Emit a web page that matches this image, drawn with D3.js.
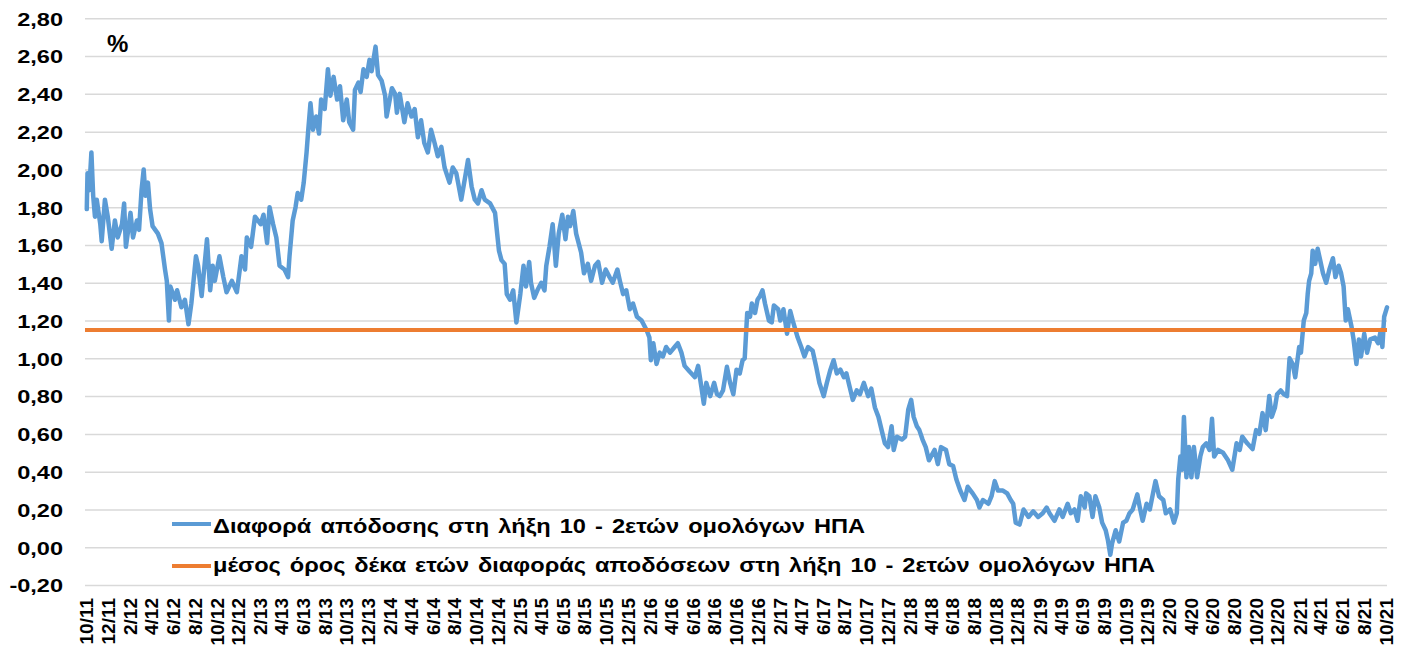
<!DOCTYPE html>
<html>
<head>
<meta charset="utf-8">
<script src="https://cdn.jsdelivr.net/npm/d3@7"></script>
<style>
  body { margin: 0; background: #fff; }
  svg { display: block; font-family: "Liberation Sans", Arial, sans-serif; font-weight: bold; }
</style>
</head>
<body>
<script>
// 10y - 2y US Treasury spread
var spreadDates = [
  "2011-10-03","2011-10-05","2011-10-10","2011-10-16","2011-10-21","2011-10-26","2011-10-31","2011-11-10","2011-11-14","2011-11-23",
  "2011-12-01","2011-12-12","2011-12-21","2011-12-29","2012-01-10","2012-01-16","2012-01-21","2012-02-03","2012-02-10","2012-02-21",
  "2012-02-27","2012-03-05","2012-03-11","2012-03-16","2012-03-23","2012-03-29","2012-04-05","2012-04-20","2012-04-30","2012-05-10",
  "2012-05-15","2012-05-21","2012-05-25","2012-06-07","2012-06-13","2012-06-25","2012-07-05","2012-07-15","2012-07-23","2012-08-05",
  "2012-08-11","2012-08-21","2012-09-05","2012-09-14","2012-09-21","2012-09-27","2012-10-10","2012-10-21","2012-10-30","2012-11-14",
  "2012-11-28","2012-12-11","2012-12-21","2012-12-26","2013-01-07","2013-01-18","2013-02-03","2013-02-11","2013-02-21","2013-02-28",
  "2013-03-10","2013-03-19","2013-03-28","2013-04-11","2013-04-21","2013-04-25","2013-05-04","2013-05-12","2013-05-18","2013-05-28",
  "2013-06-04","2013-06-12","2013-06-16","2013-06-23","2013-06-30","2013-07-09","2013-07-17","2013-07-23","2013-08-02","2013-08-11",
  "2013-08-18","2013-08-27","2013-09-06","2013-09-14","2013-09-23","2013-10-03","2013-10-10","2013-10-21","2013-10-26","2013-11-05",
  "2013-11-11","2013-11-19","2013-11-28","2013-12-06","2013-12-12","2013-12-23","2013-12-30","2014-01-09","2014-01-19","2014-01-23",
  "2014-02-07","2014-02-16","2014-02-21","2014-03-01","2014-03-14","2014-03-23","2014-04-03","2014-04-12","2014-04-21","2014-04-30",
  "2014-05-09","2014-05-19","2014-05-28","2014-06-07","2014-06-16","2014-06-26","2014-07-05","2014-07-19","2014-07-28","2014-08-07",
  "2014-08-21","2014-09-01","2014-09-09","2014-09-19","2014-09-28","2014-10-07","2014-10-17","2014-10-26","2014-11-10","2014-11-24",
  "2014-11-30","2014-12-05","2014-12-12","2014-12-21","2014-12-27","2015-01-05","2015-01-14","2015-01-23","2015-02-03","2015-02-12",
  "2015-02-19","2015-02-28","2015-03-05","2015-03-14","2015-03-23","2015-04-03","2015-04-12","2015-04-17","2015-04-26","2015-05-05",
  "2015-05-14","2015-05-22","2015-06-01","2015-06-10","2015-06-17","2015-06-23","2015-07-02","2015-07-10","2015-07-24","2015-08-01",
  "2015-08-12","2015-08-21","2015-09-01","2015-09-10","2015-09-21","2015-10-01","2015-10-12","2015-10-21","2015-11-03","2015-11-10",
  "2015-11-19","2015-11-28","2015-12-08","2015-12-17","2015-12-28","2016-01-10","2016-01-24","2016-02-01","2016-02-05","2016-02-12",
  "2016-02-21","2016-03-01","2016-03-10","2016-03-19","2016-03-30","2016-04-12","2016-04-21","2016-05-01","2016-05-10","2016-05-24",
  "2016-06-08","2016-06-17","2016-06-26","2016-07-03","2016-07-10","2016-07-21","2016-08-01","2016-08-09","2016-08-17","2016-08-26",
  "2016-09-06","2016-09-15","2016-09-24","2016-10-03","2016-10-12","2016-10-20","2016-10-26","2016-11-02","2016-11-10","2016-11-15",
  "2016-11-24","2016-12-01","2016-12-08","2016-12-15","2016-12-22","2017-01-02","2017-01-10","2017-01-16","2017-01-28","2017-02-03",
  "2017-02-12","2017-02-22","2017-03-03","2017-03-10","2017-03-24","2017-04-03","2017-04-12","2017-04-22","2017-05-05","2017-05-15",
  "2017-05-24","2017-06-05","2017-06-14","2017-06-24","2017-07-03","2017-07-12","2017-07-22","2017-08-01","2017-08-08","2017-08-17",
  "2017-08-26","2017-09-06","2017-09-15","2017-09-26","2017-10-08","2017-10-17","2017-10-27","2017-11-06","2017-11-15","2017-11-24",
  "2017-12-03","2017-12-13","2017-12-19","2017-12-28","2018-01-11","2018-01-20","2018-01-29","2018-02-06","2018-02-13","2018-02-22",
  "2018-03-01","2018-03-10","2018-03-19","2018-03-28","2018-04-13","2018-04-22","2018-05-01","2018-05-15","2018-05-24","2018-06-04",
  "2018-06-13","2018-06-24","2018-07-06","2018-07-15","2018-07-29","2018-08-10","2018-08-17","2018-08-27","2018-09-11","2018-09-20",
  "2018-09-29","2018-10-08","2018-10-22","2018-11-03","2018-11-13","2018-11-20","2018-11-27","2018-12-08","2018-12-19","2019-01-02",
  "2019-01-15","2019-01-29","2019-02-11","2019-02-22","2019-03-02","2019-03-16","2019-03-30","2019-04-08","2019-04-22","2019-05-01",
  "2019-05-11","2019-05-20","2019-05-29","2019-06-09","2019-06-13","2019-06-22","2019-07-01","2019-07-09","2019-07-20","2019-07-28",
  "2019-08-07","2019-08-13","2019-08-20","2019-08-25","2019-09-04","2019-09-14","2019-09-25","2019-10-04","2019-10-13","2019-10-22",
  "2019-11-04","2019-11-11","2019-11-19","2019-11-30","2019-12-09","2019-12-18","2019-12-25","2020-01-04","2020-01-16","2020-01-23",
  "2020-02-04","2020-02-15","2020-02-23","2020-02-27","2020-03-04","2020-03-09","2020-03-14","2020-03-21","2020-03-28","2020-04-04",
  "2020-04-11","2020-04-20","2020-04-29","2020-05-06","2020-05-16","2020-05-25","2020-06-01","2020-06-07","2020-06-18","2020-07-02",
  "2020-07-16","2020-07-28","2020-08-09","2020-08-18","2020-08-25","2020-09-08","2020-09-23","2020-10-03","2020-10-12","2020-10-21",
  "2020-10-30","2020-11-09","2020-11-16","2020-11-25","2020-12-01","2020-12-11","2020-12-20","2020-12-29","2021-01-05","2021-01-14",
  "2021-01-21","2021-02-01","2021-02-06","2021-02-14","2021-02-21","2021-02-25","2021-03-01","2021-03-07","2021-03-11","2021-03-18",
  "2021-03-25","2021-04-01","2021-04-09","2021-04-18","2021-04-27","2021-05-07","2021-05-14","2021-05-23","2021-05-30","2021-06-06",
  "2021-06-12","2021-06-18","2021-06-28","2021-07-04","2021-07-12","2021-07-19","2021-07-25","2021-08-03","2021-08-11","2021-08-20",
  "2021-09-02","2021-09-11","2021-09-19","2021-09-23","2021-09-28","2021-10-06"
];

var spreadValues = [
  1.79,1.98,1.89,2.09,1.86,1.75,1.84,1.71,1.62,1.84,
  1.75,1.58,1.73,1.64,1.71,1.82,1.59,1.77,1.64,1.73,
  1.68,1.89,2.00,1.86,1.93,1.79,1.70,1.66,1.61,1.47,
  1.41,1.20,1.38,1.31,1.36,1.27,1.31,1.18,1.29,1.54,
  1.49,1.33,1.63,1.36,1.49,1.41,1.54,1.43,1.35,1.41,
  1.35,1.54,1.47,1.64,1.59,1.75,1.71,1.76,1.61,1.80,
  1.71,1.64,1.49,1.47,1.43,1.54,1.73,1.80,1.875,1.84,
  1.93,2.09,2.19,2.35,2.21,2.28,2.19,2.37,2.32,2.53,
  2.39,2.49,2.37,2.44,2.26,2.37,2.25,2.21,2.42,2.46,
  2.41,2.53,2.49,2.58,2.52,2.65,2.50,2.47,2.39,2.28,
  2.43,2.40,2.30,2.40,2.25,2.35,2.28,2.32,2.17,2.26,
  2.14,2.09,2.21,2.14,2.07,2.12,2.01,1.93,2.01,1.98,
  1.84,1.96,2.05,1.91,1.84,1.82,1.89,1.84,1.82,1.77,
  1.66,1.57,1.52,1.50,1.34,1.31,1.36,1.19,1.34,1.49,
  1.38,1.51,1.40,1.32,1.36,1.40,1.36,1.49,1.59,1.71,
  1.49,1.66,1.76,1.63,1.75,1.70,1.78,1.66,1.56,1.45,
  1.50,1.41,1.49,1.51,1.40,1.47,1.43,1.40,1.47,1.41,
  1.34,1.36,1.26,1.29,1.22,1.20,1.15,1.11,0.99,1.08,
  0.97,1.03,1.01,1.06,1.03,1.06,1.08,1.03,0.96,0.93,
  0.90,0.96,0.85,0.76,0.87,0.80,0.87,0.81,0.80,0.83,
  0.955,0.87,0.81,0.94,0.92,0.99,1.00,1.24,1.22,1.29,
  1.24,1.31,1.33,1.36,1.29,1.20,1.19,1.28,1.26,1.20,
  1.26,1.13,1.25,1.20,1.11,1.06,1.01,1.06,1.04,0.955,
  0.87,0.80,0.87,0.94,0.99,0.92,0.94,0.90,0.92,0.85,
  0.78,0.83,0.81,0.87,0.80,0.84,0.74,0.69,0.62,0.55,
  0.53,0.64,0.515,0.585,0.57,0.585,0.73,0.78,0.69,0.64,
  0.62,0.57,0.53,0.46,0.515,0.44,0.53,0.515,0.44,0.43,
  0.36,0.30,0.25,0.32,0.285,0.25,0.21,0.25,0.23,0.27,
  0.35,0.30,0.30,0.285,0.25,0.23,0.13,0.12,0.20,0.16,
  0.19,0.16,0.18,0.21,0.18,0.14,0.20,0.16,0.23,0.18,
  0.20,0.14,0.27,0.21,0.285,0.27,0.16,0.27,0.21,0.13,
  0.09,0.04,-0.04,0.02,0.09,0.03,0.13,0.14,0.18,0.20,
  0.28,0.21,0.14,0.23,0.20,0.285,0.35,0.27,0.25,0.18,
  0.20,0.13,0.18,0.36,0.48,0.41,0.69,0.37,0.53,0.37,
  0.53,0.37,0.48,0.53,0.55,0.515,0.68,0.48,0.515,0.50,
  0.46,0.41,0.55,0.515,0.585,0.55,0.52,0.62,0.60,0.71,
  0.62,0.80,0.69,0.74,0.81,0.83,0.81,0.80,1.00,0.97,
  0.90,1.06,1.03,1.20,1.24,1.34,1.41,1.45,1.57,1.50,
  1.58,1.52,1.45,1.40,1.47,1.53,1.43,1.49,1.45,1.38,
  1.20,1.26,1.17,1.10,0.97,1.10,1.01,1.13,1.03,1.10,
  1.11,1.08,1.15,1.06,1.22,1.27
];

// ten-year average of the spread
var meanSpread = 1.15;

var seriesNames = [
  "Διαφορά απόδοσης στη λήξη 10 - 2ετών ομολόγων ΗΠΑ",
  "μέσος όρος δέκα ετών διαφοράς αποδόσεων στη λήξη 10 - 2ετών ομολόγων ΗΠΑ"
];
var seriesColors = ["#5B9BD5", "#ED7D31"];

var yTicks = [-0.2, 0, 0.2, 0.4, 0.6, 0.8, 1.0, 1.2, 1.4, 1.6, 1.8, 2.0, 2.2, 2.4, 2.6, 2.8];

var xTickLabels = [
  "10/11","12/11","2/12","4/12","6/12","8/12","10/12","12/12","2/13","4/13","6/13","8/13","10/13","12/13",
  "2/14","4/14","6/14","8/14","10/14","12/14","2/15","4/15","6/15","8/15","10/15","12/15",
  "2/16","4/16","6/16","8/16","10/16","12/16","2/17","4/17","6/17","8/17","10/17","12/17",
  "2/18","4/18","6/18","8/18","10/18","12/18","2/19","4/19","6/19","8/19","10/19","12/19",
  "2/20","4/20","6/20","8/20","10/20","12/20","2/21","4/21","6/21","8/21","10/21"
];

var width = 1409, height = 645;
var plotLeft = 85, plotRight = 1387, plotTop = 18.3, plotBottom = 585;

var parseDay = d3.timeParse("%Y-%m-%d");
var parseMonth = d3.timeParse("%m/%y");

var data = spreadDates.map(function(d, i) {
  return { date: parseDay(d), value: spreadValues[i] };
});
var xTickDates = xTickLabels.map(parseMonth);

var x = d3.scaleTime()
    .domain([parseDay("2011-09-28"), parseDay("2021-10-06")])
    .range([plotLeft, plotRight]);

var y = d3.scaleLinear()
    .domain([-0.2, 2.8])
    .range([plotBottom, plotTop]);

var svg = d3.select("body")
    .append("svg")
    .attr("width", width)
    .attr("height", height);

// gridlines + y labels
var yAxis = svg.append("g")
    .attr("transform", "translate(" + plotLeft + ",0)")
    .call(d3.axisLeft(y)
      .tickValues(yTicks)
      .tickSize(-(plotRight - plotLeft))
      .tickFormat(function(d) { return d.toFixed(2).replace(".", ","); }));

yAxis.select(".domain").remove();
yAxis.selectAll("line")
    .attr("stroke", "#d9d9d9")
    .attr("stroke-width", 1.5);
yAxis.selectAll("text")
    .attr("x", -17.7)
    .attr("dy", "0.36em")
    .attr("transform", "scale(1.24,1)")
    .attr("fill", "#000")
    .style("font-size", "19px")
    .style("font-weight", "bold");

// x labels, rotated
var xAxis = svg.append("g")
    .attr("transform", "translate(0," + plotBottom + ")")
    .call(d3.axisBottom(x)
      .tickValues(xTickDates)
      .tickSize(0)
      .tickFormat(function(d, i) { return xTickLabels[i]; }));

xAxis.select(".domain").remove();
xAxis.selectAll("text")
    .attr("transform", "rotate(-90)")
    .attr("text-anchor", "end")
    .attr("x", -13)
    .attr("y", 0)
    .attr("dy", "0.36em")
    .attr("fill", "#000")
    .style("font-size", "19px")
    .style("font-weight", "bold");

// spread line
var line = d3.line()
    .x(function(d) { return x(d.date); })
    .y(function(d) { return y(d.value); });

svg.append("path")
    .datum(data)
    .attr("fill", "none")
    .attr("stroke", seriesColors[0])
    .attr("stroke-width", 4.5)
    .attr("stroke-linejoin", "round")
    .attr("stroke-linecap", "round")
    .attr("d", line);

// ten year mean
svg.append("line")
    .attr("x1", plotLeft)
    .attr("x2", plotRight)
    .attr("y1", y(meanSpread))
    .attr("y2", y(meanSpread))
    .attr("stroke", seriesColors[1])
    .attr("stroke-width", 4);

// % unit
svg.append("text")
    .attr("x", 107)
    .attr("y", 52)
    .style("font-size", "24px")
    .text("%");

// legend
var legendRows = [
  { y: 524, base: 533, right: 865 },
  { y: 566, base: 572, right: 1155 }
];
var legendStretch = 1.18;

seriesNames.forEach(function(name, i) {
  var row = legendRows[i];
  svg.append("line")
      .attr("x1", 172).attr("x2", 211)
      .attr("y1", row.y).attr("y2", row.y)
      .attr("stroke", seriesColors[i])
      .attr("stroke-width", 4);

  var t = svg.append("text")
      .attr("transform", "translate(213," + row.base + ") scale(" + legendStretch + ",1)")
      .style("font-size", "20px")
      .text(name);

  // widen the word gaps so the label spans like the original
  var natural = t.node().getComputedTextLength();
  var gaps = name.split(" ").length - 1;
  var target = (row.right - 213) / legendStretch;
  t.style("word-spacing", ((target - natural) / gaps) + "px");
});
</script>
</body>
</html>
